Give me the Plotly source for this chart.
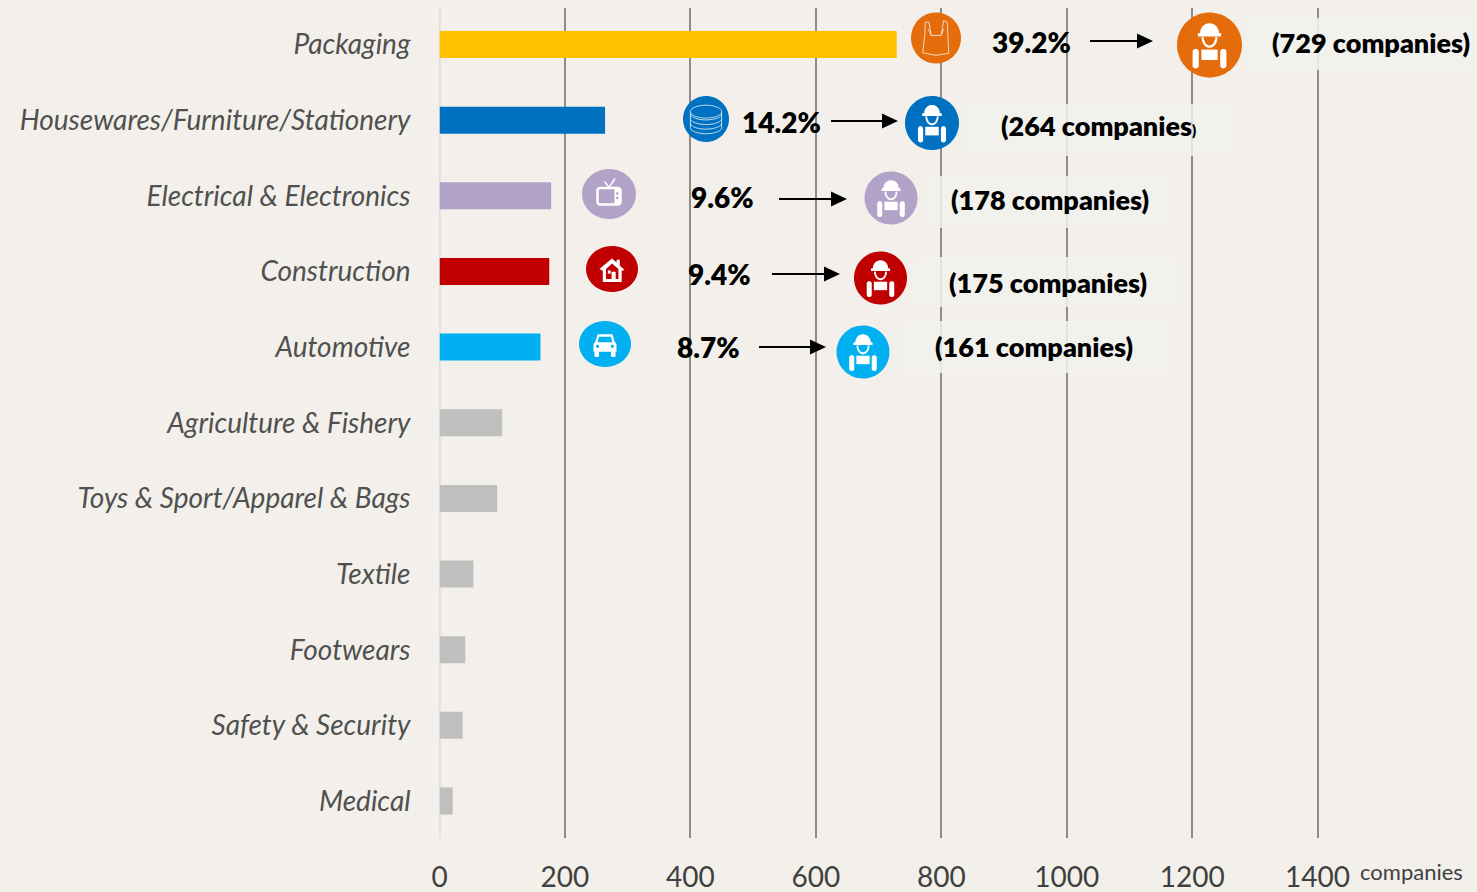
import numpy as np
import plotly.graph_objects as go

# ---- data ----
categories = ["Packaging", "Housewares/Furniture/Stationery", "Electrical & Electronics",
              "Construction", "Automotive", "Agriculture & Fishery", "Toys & Sport/Apparel & Bags",
              "Textile", "Footwears", "Safety & Security", "Medical"]
companies = [729, 264, 178, 175, 161, 100, 92, 54, 41, 37, 21]
bar_colors = ["#FFC000", "#0070C0", "#B3A2C7", "#C00000", "#00B0F0",
              "#BFBFBF", "#BFBFBF", "#BFBFBF", "#BFBFBF", "#BFBFBF", "#BFBFBF"]
x_ticks = [0, 200, 400, 600, 800, 1000, 1200, 1400]
shares = ["39.2%", "14.2%", "9.6%", "9.4%", "8.7%"]
company_labels = ["(729 companies)",
                  '(264 companies<span style="font-size:15px">)</span>',
                  "(178 companies)", "(175 companies)", "(161 companies)"]
circle_colors = ["#E46C0A", "#0070C0", "#B3A2C7", "#C00000", "#00B0F0"]
unit_label = "companies"

# ---- layout geometry (pixels) ----
W, H = 1477, 892
X0, PLOT_TOP, PLOT_BOTTOM = 439.5, 8, 838
PX_PER_UNIT = 0.6272
ROW = 75.65
FIRST_ROW = 44.5
BG = "#F3F0EB"

px = lambda x: x / W
py = lambda y: 1 - y / H

share_pos = [(1031, 42), (781, 122), (722, 197), (719, 274), (708, 347)]
label_pos = [(1371, 43), (1098, 126), (1050, 200), (1048, 282), (1034, 346)]
arrows = [(1090, 1153, 41), (831, 898, 121), (779, 847, 199), (772, 840, 274), (759, 826, 347)]
workers = [(1209.5, 45, 32.5), (932, 123, 27), (891, 198, 26.5), (880.5, 278, 26.5), (863, 352, 26.5)]
patches = [(1245, 1477, 18, 70), (964, 1232, 104, 156), (925, 1170, 176, 228),
           (915, 1180, 257, 307), (900, 1168, 321, 373)]
icons = [(936, 38, 25, 25.5), (706, 119, 23, 23), (609, 194, 27, 25), (612, 269, 26, 23), (605, 344, 26, 23)]

shapes, annotations = [], []


def path(polys, closed=True):
    out = []
    for poly in polys:
        out.append("M" + " L".join(f"{px(a):.5f},{py(b):.5f}" for a, b in poly) + (" Z" if closed else ""))
    return " ".join(out)


def ell(cx, cy, rx, ry, a0=0, a1=360, n=48):
    t = np.radians(np.linspace(a0, a1, n))
    return [(cx + rx * np.cos(v), cy + ry * np.sin(v)) for v in t]


def fill(polys, color="white"):
    shapes.append(dict(type="path", xref="paper", yref="paper", path=path(polys), fillcolor=color,
                       line=dict(width=0), layer="above"))


def stroke(polys, width=1.5, color="white", closed=False):
    shapes.append(dict(type="path", xref="paper", yref="paper", path=path(polys, closed),
                       line=dict(width=width, color=color), layer="above"))


def scaled(cx, cy, r, poly):
    return [(cx + a * r, cy + b * r) for a, b in poly]


def rrect(x0, y0, x1, y1, rad):
    p = []
    p += ell(x0 + rad, y0 + rad, rad, rad, 180, 270, 6)
    p += ell(x1 - rad, y0 + rad, rad, rad, 270, 360, 6)
    p += ell(x1 - rad, y1 - rad, rad, rad, 0, 90, 6)
    p += ell(x0 + rad, y1 - rad, rad, rad, 90, 180, 6)
    return p


def disc(cx, cy, rx, ry, color):
    fill([ell(cx, cy, rx, ry, n=72)], color)


def worker(cx, cy, r, color):
    disc(cx, cy, r, r, color)
    u = lambda poly: scaled(cx, cy, r, poly)
    # helmet
    fill([u(ell(0, -0.37, 0.29, 0.3, 180, 360, 16) + [(0.36, -0.36), (0.36, -0.26), (-0.36, -0.26), (-0.36, -0.36)])])
    # face outline
    stroke([u(ell(0, -0.24, 0.21, 0.29, 0, 180, 16))], width=max(1.5, r * 0.07))
    # arms
    fill([u(rrect(-0.52, 0.12, -0.33, 0.72, 0.09))])
    fill([u(rrect(0.33, 0.12, 0.52, 0.72, 0.09))])
    # bib
    fill([u([(-0.25, 0.14), (0.25, 0.14), (0.25, 0.46), (-0.25, 0.46)])])


def bag(cx, cy, r):
    u = lambda poly: scaled(cx, cy, r, poly)
    stroke([u([(-0.44, -0.1), (-0.42, -0.62), (-0.28, -0.62), (-0.18, -0.1), (0.2, -0.1), (0.3, -0.68),
               (0.44, -0.62), (0.5, 0.6), (0, 0.68), (-0.52, 0.58), (-0.44, -0.1)])], width=1, color="#F6D7BD")
    stroke([u([(-0.2, -0.1), (-0.3, -0.35)]), u([(0.2, -0.1), (0.3, -0.35)])], width=1, color="#F6D7BD")


def coins(cx, cy, r):
    u = lambda poly: scaled(cx, cy, r, poly)
    for b in (-0.22, -0.02, 0.18, 0.38):
        stroke([u(ell(0, b, 0.68, 0.26, 0, 180, 20))], width=1, color="#BFDDF2")
    stroke([u(ell(0, -0.32, 0.68, 0.28))], width=1, color="#BFDDF2")
    stroke([u([(-0.68, -0.32), (-0.68, 0.38)]), u([(0.68, -0.32), (0.68, 0.38)])], width=1, color="#BFDDF2")


def tv(cx, cy, r):
    u = lambda poly: scaled(cx, cy, r, poly)
    stroke([u(rrect(-0.46, -0.24, 0.46, 0.42, 0.1))], width=2.5, closed=True)
    fill([u([(0.22, -0.2), (0.44, -0.2), (0.44, 0.4), (0.22, 0.4)])])
    stroke([u([(-0.18, -0.5), (0, -0.26), (0.24, -0.62)])], width=1.5)
    fill([u(ell(0.33, -0.02, 0.05, 0.05, n=12)), u(ell(0.33, 0.16, 0.05, 0.05, n=12))], "#B3A2C7")


def house(cx, cy, r):
    u = lambda poly: scaled(cx, cy, r, poly)
    fill([u([(-0.55, 0.0), (0, -0.46), (0.2, -0.28), (0.2, -0.4), (0.34, -0.4), (0.34, -0.14), (0.55, 0.04),
             (0.42, 0.08), (0.42, 0.56), (-0.4, 0.56), (-0.4, 0.08)])])
    fill([u([(-0.26, 0.0), (0, -0.24), (0.28, 0.0), (0.28, 0.44), (0.16, 0.44), (0.16, 0.12), (-0.02, 0.12),
             (-0.02, 0.44), (-0.26, 0.44)])], "#C00000")
    fill([u([(-0.18, 0.06), (-0.06, 0.06), (-0.06, 0.2), (-0.18, 0.2)])])


def car(cx, cy, r):
    u = lambda poly: scaled(cx, cy, r, poly)
    fill([u([(-0.32, -0.42), (0.32, -0.42), (0.42, -0.1), (0.5, 0.0), (0.5, 0.34), (-0.5, 0.34), (-0.5, 0.0),
             (-0.42, -0.1)])])
    fill([u(rrect(-0.46, 0.3, -0.26, 0.56, 0.05)), u(rrect(0.26, 0.3, 0.46, 0.56, 0.05))])
    fill([u([(-0.26, -0.32), (0.26, -0.32), (0.32, -0.08), (-0.32, -0.08)])], "#00B0F0")
    fill([u(ell(-0.32, 0.1, 0.07, 0.07, n=12)), u(ell(0.32, 0.1, 0.07, 0.07, n=12))], "#00B0F0")


# pale panels behind the company counts
for x0, x1, y0, y1 in patches:
    shapes.append(dict(type="rect", xref="paper", yref="paper", x0=px(x0), x1=px(x1), y0=py(y0), y1=py(y1),
                       fillcolor="#F2F1EE", opacity=0.85, line=dict(width=0), layer="above"))

# category icons
for (cx, cy, rx, ry), color, draw in zip(icons, circle_colors, [bag, coins, tv, house, car]):
    disc(cx, cy, rx, ry, color)
    draw(cx, cy, ry)

# workers
for (cx, cy, r), color in zip(workers, circle_colors):
    worker(cx, cy, r, color)

# arrows
for x0, x1, y in arrows:
    stroke([[(x0, y), (x1 - 14, y)]], width=2, color="black")
    fill([[(x1, y), (x1 - 16, y - 7.5), (x1 - 16, y + 7.5)]], "black")

# texts
for text, (x, y) in zip(shares, share_pos):
    annotations.append(dict(text=text, x=px(x), y=py(y), xref="paper", yref="paper", showarrow=False,
                            xanchor="center", yanchor="middle",
                            font=dict(family="Lato", size=28, color="black", weight=800)))
for text, (x, y) in zip(company_labels, label_pos):
    annotations.append(dict(text=text, x=px(x), y=py(y), xref="paper", yref="paper", showarrow=False,
                            xanchor="center", yanchor="middle",
                            font=dict(family="Lato", size=27, color="black", weight=800)))
annotations.append(dict(text=unit_label, x=px(1411), y=py(871), xref="paper", yref="paper", showarrow=False,
                        xanchor="center", yanchor="middle", font=dict(family="Lato", size=22, color="#404040")))

fig = go.Figure(go.Bar(x=companies, y=categories, orientation="h", width=0.357,
                       marker=dict(color=bar_colors, line=dict(width=0)), hoverinfo="x+y"))
fig.update_layout(
    width=W, height=H, margin=dict(l=0, r=0, t=0, b=0, pad=0, autoexpand=False),
    paper_bgcolor=BG, plot_bgcolor=BG,
    showlegend=False, shapes=shapes, annotations=annotations,
    xaxis=dict(domain=[px(X0), 1], range=[0, (W - X0) / PX_PER_UNIT], tickmode="array", tickvals=x_ticks,
               automargin=False,
               showgrid=True, gridcolor="#8C8C8C", gridwidth=2, zeroline=True, zerolinecolor="#E2E2E2",
               zerolinewidth=2, showline=False, ticks="", ticklabelstandoff=20,
               tickfont=dict(family="Lato", size=28, color="#404040")),
    yaxis=dict(domain=[py(PLOT_BOTTOM), py(PLOT_TOP)], type="category", categoryorder="array",
               categoryarray=categories, automargin=False,
               range=[(PLOT_BOTTOM - FIRST_ROW) / ROW, (PLOT_TOP - FIRST_ROW) / ROW],
               showgrid=False, showline=False, zeroline=False, ticks="", ticklabelstandoff=28,
               tickfont=dict(family="Lato", size=28, color="#505050", style="italic")),
)
fig.write_html("out.html", config=dict(displayModeBar=False),
               post_script="document.body.style.margin='0';document.body.style.overflow='hidden';")
